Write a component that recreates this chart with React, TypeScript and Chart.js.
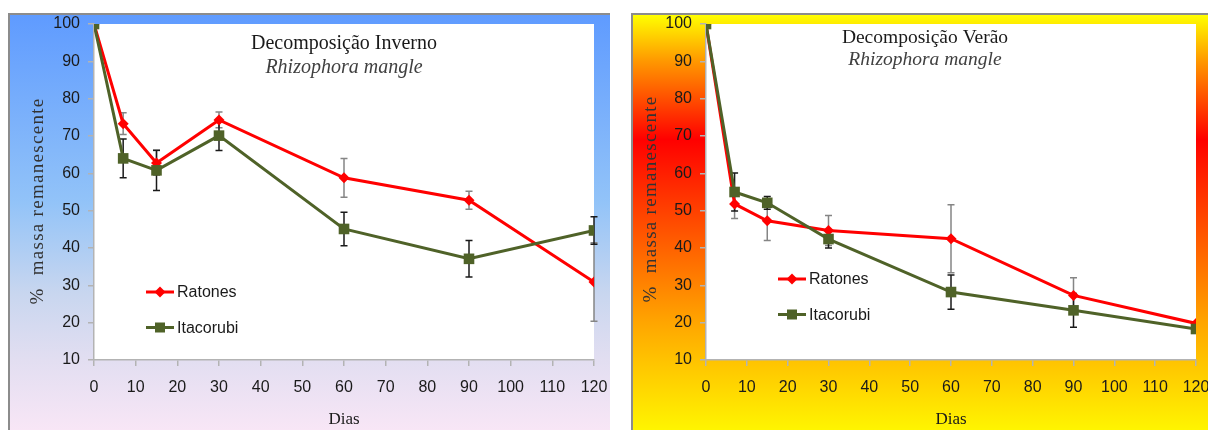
import React, { useEffect, useRef } from "react";
import { Chart, registerables } from "chart.js";

Chart.register(...registerables);

// ---------- data ----------
const days = [0, 7, 15, 30, 60, 90, 120];
const xTicks = [0, 10, 20, 30, 40, 50, 60, 70, 80, 90, 100, 110, 120];
const yTicks = [10, 20, 30, 40, 50, 60, 70, 80, 90, 100];

const invernoRatones = [100, 73.3, 62.8, 74.3, 58.8, 52.8, 30.9];
const invernoRatonesErr = [0, 2.9, 3.3, 2.1, 5.2, 2.4, 10.5];
const invernoItacorubi = [100, 64.0, 60.8, 70.1, 45.1, 37.1, 44.7];
const invernoItacorubiErr = [0, 5.2, 5.4, 4.0, 4.5, 4.9, 3.7];

const veraoRatones = [100, 51.8, 47.3, 44.7, 42.5, 27.3, 19.8];
const veraoRatonesErr = [0, 3.9, 5.3, 4.0, 9.1, 4.7, 0];
const veraoItacorubi = [100, 55.0, 52.1, 42.4, 28.2, 23.3, 18.3];
const veraoItacorubiErr = [0, 5.1, 1.7, 2.4, 4.6, 4.5, 0];

const seriesNames = ["Ratones", "Itacorubi"];
const titleInverno = "Decomposição Inverno";
const titleVerao = "Decomposição Verão";
const subtitle = "Rhizophora mangle";
const yTitle = "%  massa remanescente";
const xTitle = "Dias";

// ---------- styles ----------
const RED = "#ff0000";
const GREEN = "#4f6228";
const SERIF = "'Times New Roman', 'Liberation Serif', serif";
const SANS = "Arial, 'Liberation Sans', sans-serif";

type Cfg = {
  left: number;
  top: number;
  w: number;
  h: number;
  yWidth: number;
  padRight: number;
  yTitleX: number;
  yTitleY: number;
  title: string;
  titleX: number;
  titleY: number;
  subY: number;
  titleSize: number;
  legendX: number;
  legendY: number;
  ratones: number[];
  ratonesErr: number[];
  itacorubi: number[];
  itacorubiErr: number[];
  background: string;
};

function drawMarker(ctx: CanvasRenderingContext2D, kind: string, x: number, y: number, color: string) {
  ctx.save();
  ctx.fillStyle = color;
  ctx.beginPath();
  if (kind === "diamond") {
    const r = 5.5;
    ctx.moveTo(x, y - r);
    ctx.lineTo(x + r, y);
    ctx.lineTo(x, y + r);
    ctx.lineTo(x - r, y);
    ctx.closePath();
  } else {
    const s = 5;
    ctx.rect(x - s, y - s, 2 * s, 2 * s);
  }
  ctx.fill();
  ctx.restore();
}

function makeOverlay(cfg: Cfg) {
  return {
    id: "overlay",
    beforeDraw(chart: any) {
      const { ctx, chartArea: a } = chart;
      ctx.save();
      ctx.fillStyle = "#ffffff";
      ctx.fillRect(a.left, a.top, a.right - a.left, a.bottom - a.top);
      ctx.restore();
    },
    beforeDatasetsDraw(chart: any) {
      const { ctx } = chart;
      const xs = chart.scales.x;
      const ys = chart.scales.y;
      // y axis title (rotated, letter-spaced)
      ctx.save();
      ctx.translate(cfg.yTitleX, cfg.yTitleY);
      ctx.rotate(-Math.PI / 2);
      ctx.textAlign = "center";
      ctx.textBaseline = "middle";
      ctx.fillStyle = "#333333";
      ctx.font = `19px ${SERIF}`;
      try {
        (ctx as any).letterSpacing = "1.3px";
      } catch (e) {}
      ctx.fillText(yTitle, 0, 0);
      ctx.restore();
      // title inside plot
      ctx.save();
      ctx.textAlign = "center";
      ctx.textBaseline = "alphabetic";
      ctx.fillStyle = "#1a1a1a";
      ctx.font = `${cfg.titleSize}px ${SERIF}`;
      ctx.fillText(cfg.title, cfg.titleX, cfg.titleY);
      ctx.fillStyle = "#404040";
      ctx.font = `italic ${cfg.titleSize}px ${SERIF}`;
      ctx.fillText(subtitle, cfg.titleX, cfg.subY);
      ctx.restore();
      // error bars
      const sets = [
        { vals: cfg.ratones, errs: cfg.ratonesErr, color: "#858585" },
        { vals: cfg.itacorubi, errs: cfg.itacorubiErr, color: "#1a1a1a" },
      ];
      ctx.save();
      ctx.lineWidth = 1.5;
      for (const s of sets) {
        ctx.strokeStyle = s.color;
        s.vals.forEach((v, i) => {
          const e = s.errs[i];
          if (!e) return;
          const x = xs.getPixelForValue(days[i]);
          const y1 = ys.getPixelForValue(v + e);
          const y2 = ys.getPixelForValue(v - e);
          ctx.beginPath();
          ctx.moveTo(x, y1);
          ctx.lineTo(x, y2);
          ctx.moveTo(x - 3.5, y1);
          ctx.lineTo(x + 3.5, y1);
          ctx.moveTo(x - 3.5, y2);
          ctx.lineTo(x + 3.5, y2);
          ctx.stroke();
        });
      }
      ctx.restore();
    },
    afterDatasetsDraw(chart: any) {
      const { ctx } = chart;
      const items = [
        { name: seriesNames[0], color: RED, kind: "diamond" },
        { name: seriesNames[1], color: GREEN, kind: "square" },
      ];
      items.forEach((it, i) => {
        const y = cfg.legendY + i * 35.5;
        const x0 = cfg.legendX;
        ctx.save();
        ctx.strokeStyle = it.color;
        ctx.lineWidth = 3;
        ctx.beginPath();
        ctx.moveTo(x0, y);
        ctx.lineTo(x0 + 28, y);
        ctx.stroke();
        ctx.restore();
        drawMarker(ctx, it.kind, x0 + 14, y, it.color);
        ctx.save();
        ctx.fillStyle = "#1a1a1a";
        ctx.font = `16px ${SANS}`;
        ctx.textAlign = "left";
        ctx.textBaseline = "middle";
        ctx.fillText(it.name, x0 + 31, y + 1);
        ctx.restore();
      });
    },
  };
}

function buildConfig(cfg: Cfg): any {
  const axisColor = "#b3b3b3";
  const tickFont = { family: SANS, size: 16 };
  return {
    type: "line",
    data: {
      datasets: [
        {
          label: seriesNames[1],
          data: days.map((d, i) => ({ x: d, y: cfg.itacorubi[i] })),
          borderColor: GREEN,
          backgroundColor: GREEN,
          borderWidth: 3,
          pointStyle: "rect",
          pointRadius: 7.5,
          pointBorderWidth: 0,
          tension: 0,
        },
        {
          label: seriesNames[0],
          data: days.map((d, i) => ({ x: d, y: cfg.ratones[i] })),
          borderColor: RED,
          backgroundColor: RED,
          borderWidth: 3,
          pointStyle: "rectRot",
          pointRadius: 5.5,
          pointBorderWidth: 0,
          tension: 0,
        },
      ],
    },
    options: {
      animation: false,
      responsive: false,
      maintainAspectRatio: false,
      events: [],
      layout: { padding: { left: 0, right: cfg.padRight, top: 11, bottom: 0 } },
      plugins: {
        legend: { display: false },
        tooltip: { enabled: false },
        title: { display: false },
      },
      scales: {
        x: {
          type: "linear",
          min: xTicks[0],
          max: xTicks[xTicks.length - 1],
          afterBuildTicks: (s: any) => {
            s.ticks = xTicks.map((v) => ({ value: v }));
          },
          ticks: { color: "#1a1a1a", font: tickFont, padding: 12, maxRotation: 0, autoSkip: false },
          grid: { drawOnChartArea: false, drawTicks: true, tickLength: 6, color: axisColor, lineWidth: 1.5 },
          border: { color: axisColor, width: 1.5 },
          title: {
            display: true,
            text: xTitle,
            color: "#1a1a1a",
            font: { family: SERIF, size: 17 },
            padding: { top: 0, bottom: 0 },
          },
          afterFit: (s: any) => {
            s.height = 70;
            s.paddingLeft = 0;
            s.paddingRight = 0;
          },
        },
        y: {
          type: "linear",
          min: yTicks[0],
          max: yTicks[yTicks.length - 1],
          afterBuildTicks: (s: any) => {
            s.ticks = yTicks.map((v) => ({ value: v }));
          },
          ticks: { color: "#1a1a1a", font: tickFont, padding: 8 },
          grid: { drawOnChartArea: false, drawTicks: true, tickLength: 6, color: axisColor, lineWidth: 1.5 },
          border: { color: axisColor, width: 1.5 },
          title: { display: false },
          afterFit: (s: any) => {
            s.width = cfg.yWidth;
            s.paddingTop = 0;
            s.paddingBottom = 0;
          },
        },
      },
    },
    plugins: [makeOverlay(cfg)],
  };
}

function DecompChart({ cfg }: { cfg: Cfg }) {
  const ref = useRef<HTMLCanvasElement>(null);
  useEffect(() => {
    const chart = new Chart(ref.current as HTMLCanvasElement, buildConfig(cfg));
    return () => chart.destroy();
  }, []);
  return (
    <>
      <div
        style={{
          position: "absolute",
          left: cfg.left,
          top: cfg.top,
          width: cfg.w,
          height: cfg.h,
          boxSizing: "border-box",
          borderTop: "2px solid #8c8c8c",
          borderLeft: "2px solid #8c8c8c",
          background: cfg.background,
        }}
      />
      <canvas
        ref={ref}
        width={cfg.w}
        height={cfg.h}
        style={{ position: "absolute", left: cfg.left, top: cfg.top, width: cfg.w, height: cfg.h }}
      />
    </>
  );
}

const leftCfg: Cfg = {
  left: 8,
  top: 13,
  w: 602,
  h: 417,
  yWidth: 86,
  padRight: 16,
  yTitleX: 30,
  yTitleY: 188,
  title: titleInverno,
  titleX: 336,
  titleY: 36,
  subY: 60,
  titleSize: 20,
  legendX: 138,
  legendY: 279,
  ratones: invernoRatones,
  ratonesErr: invernoRatonesErr,
  itacorubi: invernoItacorubi,
  itacorubiErr: invernoItacorubiErr,
  background:
    "linear-gradient(to bottom, #5f9bff 0%, #92c3f8 45%, #c8d6ef 67%, #e2def1 83%, #f8e6f6 100%)",
};

const rightCfg: Cfg = {
  left: 631,
  top: 13,
  w: 577,
  h: 417,
  yWidth: 75,
  padRight: 12,
  yTitleX: 20,
  yTitleY: 186,
  title: titleVerao,
  titleX: 294,
  titleY: 30,
  subY: 52,
  titleSize: 19.5,
  legendX: 147,
  legendY: 266,
  ratones: veraoRatones,
  ratonesErr: veraoRatonesErr,
  itacorubi: veraoItacorubi,
  itacorubiErr: veraoItacorubiErr,
  background:
    "linear-gradient(to bottom, #ffff00 0%, #ff9900 11%, #ff0000 30%, #ff4000 47%, #ffa500 74%, #ffc200 83%, #fff500 100%)",
};

export default function App() {
  return (
    <div style={{ position: "relative", width: 1208, height: 430, overflow: "hidden" }}>
      <style>{`html,body{margin:0;padding:0;overflow:hidden;background:#fff}`}</style>
      <DecompChart cfg={leftCfg} />
      <DecompChart cfg={rightCfg} />
    </div>
  );
}
